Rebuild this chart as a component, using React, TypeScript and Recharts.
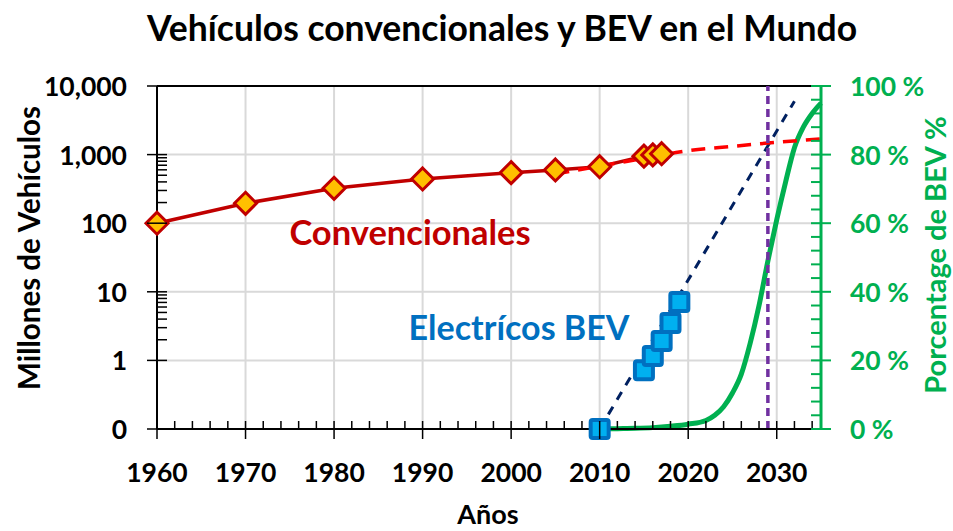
import { ComposedChart, Line, XAxis, YAxis, ReferenceLine, CartesianGrid } from "recharts";

const FONT = "Lato, 'Open Sans', sans-serif";

// conventional fleet (millions)
const convYears = [1960, 1970, 1980, 1990, 2000, 2005, 2010, 2015, 2016, 2017];
const convValues = [100, 195, 323, 441, 545, 597, 666, 950, 990, 1030];
// conventional trend (dashed red)
const convTrendYears = [2005, 2010, 2015, 2020, 2025, 2030, 2035];
const convTrendValues = [520, 680, 880, 1140, 1320, 1510, 1700];
// BEV fleet (millions)
const bevYears = [2010, 2015, 2016, 2017, 2018, 2019];
const bevValues = [0.1, 0.72, 1.16, 1.92, 3.5, 7.1];
// BEV trend (dashed navy)
const bevTrendYears = [2010, 2032];
const bevTrendValues = [0.1, 6000];
// BEV share, %
const shareYears = [2010, 2012, 2014, 2016, 2018, 2020, 2022, 2023, 2024, 2025, 2026, 2027, 2028, 2029, 2030, 2031, 2032, 2033, 2034, 2035];
const shareValues = [0, 0.1, 0.2, 0.4, 0.8, 1.4, 2.5, 4, 6.5, 10.5, 16, 25, 36, 49, 61, 72, 82, 88, 92, 95];
const crossoverYear = 2029;

// axis ticks
const yearMajor = [1960, 1970, 1980, 1990, 2000, 2010, 2020, 2030];
const yearMinor = [1962, 1964, 1966, 1968, 1972, 1974, 1976, 1978, 1982, 1984, 1986, 1988, 1992, 1994, 1996, 1998, 2002, 2004, 2006, 2008, 2012, 2014, 2016, 2018, 2022, 2024, 2026, 2028, 2032, 2034];
const vehMajor = [0.1, 1, 10, 100, 1000, 10000];
const vehMinor = [2, 3, 4, 5, 6, 7, 8, 9, 200, 300, 400, 500, 600, 700, 800, 900];
const pctMajor = [0, 20, 40, 60, 80, 100];
const pctMinor = [4, 8, 12, 16, 24, 28, 32, 36, 44, 48, 52, 56, 64, 68, 72, 76, 84, 88, 92, 96];

const zip = (xs: number[], ys: number[]) => xs.map((year, i) => ({ year, v: ys[i] }));
const convData = zip(convYears, convValues);
const convTrend = zip(convTrendYears, convTrendValues);
const bevData = zip(bevYears, bevValues);
const bevTrend = zip(bevTrendYears, bevTrendValues);
const shareData = zip(shareYears, shareValues);

const GREEN = "#00B050";
const tickText = { fontFamily: FONT, fontWeight: 700, fontSize: 26.5 };

const LeftTick = ({ x, y, payload }: any) => {
  const major = vehMajor.includes(payload.value);
  const label = payload.value === 0.1 ? "0" : payload.value.toLocaleString("en-US");
  return (
    <g>
      <line x1={major ? x - 10 : x} x2={x + 10} y1={y} y2={y} stroke="#000" strokeWidth={1.5} />
      {major && <text x={x - 30} y={y} textAnchor="end" dominantBaseline="central" fill="#000" style={tickText}>{label}</text>}
    </g>
  );
};

const BottomTick = ({ x, y, payload }: any) => {
  const major = yearMajor.includes(payload.value);
  return (
    <g>
      <line x1={x} x2={x} y1={y - 8} y2={major ? y + 10 : y} stroke="#000" strokeWidth={1.5} />
      {major && <text x={x} y={y + 43} textAnchor="middle" dominantBaseline="central" fill="#000" style={tickText}>{payload.value}</text>}
    </g>
  );
};

const RightTick = ({ x, y, payload }: any) => {
  const major = pctMajor.includes(payload.value);
  return (
    <g>
      <line x1={x - 10} x2={major ? x + 10 : x} y1={y} y2={y} stroke={GREEN} strokeWidth={2} />
      {major && <text x={x + 29} y={y} textAnchor="start" dominantBaseline="central" fill={GREEN} style={tickText}>{`${payload.value} %`}</text>}
    </g>
  );
};

const Diamond = (p: any) => {
  const { cx, cy, index } = p;
  return <path key={`d${index}`} d={`M${cx},${cy - 11}L${cx + 11},${cy}L${cx},${cy + 11}L${cx - 11},${cy}Z`} fill="#FFC000" stroke="#C00000" strokeWidth={3} />;
};

const Square = (p: any) => {
  const { cx, cy, index } = p;
  return <rect key={`s${index}`} x={cx - 9} y={cy - 9} width={18} height={18} rx={2} fill="#00B0F0" stroke="#0070C0" strokeWidth={4} />;
};

export default function App() {
  return (
    <div style={{ position: "absolute", left: 0, top: 0, width: 953, height: 531, background: "#fff", fontFamily: FONT }}>
      <ComposedChart width={953} height={531} margin={{ top: 86, right: 0, bottom: 0, left: 0 }}>
        <CartesianGrid yAxisId="left" stroke="#D9D9D9" strokeWidth={2} horizontalValues={[1, 10, 100, 1000]} verticalValues={[1970, 1980, 1990, 2000, 2010, 2020, 2030]} />
        <XAxis dataKey="year" type="number" domain={[1960, 2035]} ticks={[...yearMajor, ...yearMinor]} interval={0}
          tick={<BottomTick />} tickLine={false} tickSize={0} tickMargin={0} height={102} axisLine={{ stroke: "#000", strokeWidth: 2 }} />
        <YAxis yAxisId="left" scale="log" type="number" domain={[0.1, 10000]} ticks={[...vehMajor, ...vehMinor]} interval={0}
          tick={<LeftTick />} tickLine={false} tickSize={0} tickMargin={0} width={157} axisLine={{ stroke: "#000", strokeWidth: 2 }} />
        <YAxis yAxisId="right" orientation="right" type="number" domain={[0, 100]} ticks={[...pctMajor, ...pctMinor]} interval={0}
          tick={<RightTick />} tickLine={false} tickSize={0} tickMargin={0} width={132} axisLine={{ stroke: GREEN, strokeWidth: 3 }} />
        <ReferenceLine yAxisId="left" y={10000} stroke="#000" strokeWidth={2} />
        <Line yAxisId="right" data={shareData} dataKey="v" type="monotone" stroke={GREEN} strokeWidth={5} dot={false} isAnimationActive={false} />
        <Line yAxisId="left" data={bevTrend} dataKey="v" type="linear" stroke="#002060" strokeWidth={3} strokeDasharray="9 8" dot={false} isAnimationActive={false} />
        <Line yAxisId="left" data={convData} dataKey="v" type="linear" stroke="#C00000" strokeWidth={3.5} dot={Diamond} isAnimationActive={false} />
        <Line yAxisId="left" data={convTrend} dataKey="v" type="monotone" stroke="#FF0000" strokeWidth={3.5} strokeDasharray="14 9" dot={false} isAnimationActive={false} />
        <Line yAxisId="left" data={bevData} dataKey="v" stroke="none" dot={Square} isAnimationActive={false} />
        <ReferenceLine yAxisId="left" x={crossoverYear} stroke="#7030A0" strokeWidth={3.5} strokeDasharray="8 5" />
      </ComposedChart>
      <svg width={953} height={531} style={{ position: "absolute", left: 0, top: 0, pointerEvents: "none" }}>
        <text x={502} y={27} textAnchor="middle" dominantBaseline="central" fontWeight={700} fontSize={35.5} fill="#000">Vehículos convencionales y BEV en el Mundo</text>
        <text x={488} y={513} textAnchor="middle" dominantBaseline="central" fontWeight={700} fontSize={27} fill="#000">Años</text>
        <text x={28} y={248} transform="rotate(-90 28 248)" textAnchor="middle" dominantBaseline="central" fontWeight={700} fontSize={29.5} fill="#000">Millones de Vehículos</text>
        <text x={934} y={255} transform="rotate(-90 934 255)" textAnchor="middle" dominantBaseline="central" fontWeight={700} fontSize={29} fill={GREEN}>Porcentage de BEV %</text>
        <text x={410} y={231} textAnchor="middle" dominantBaseline="central" fontWeight={700} fontSize={34.5} fill="#C00000">Convencionales</text>
        <text x={519} y={326} textAnchor="middle" dominantBaseline="central" fontWeight={700} fontSize={34} fill="#0070C0">Electrícos BEV</text>
      </svg>
    </div>
  );
}
